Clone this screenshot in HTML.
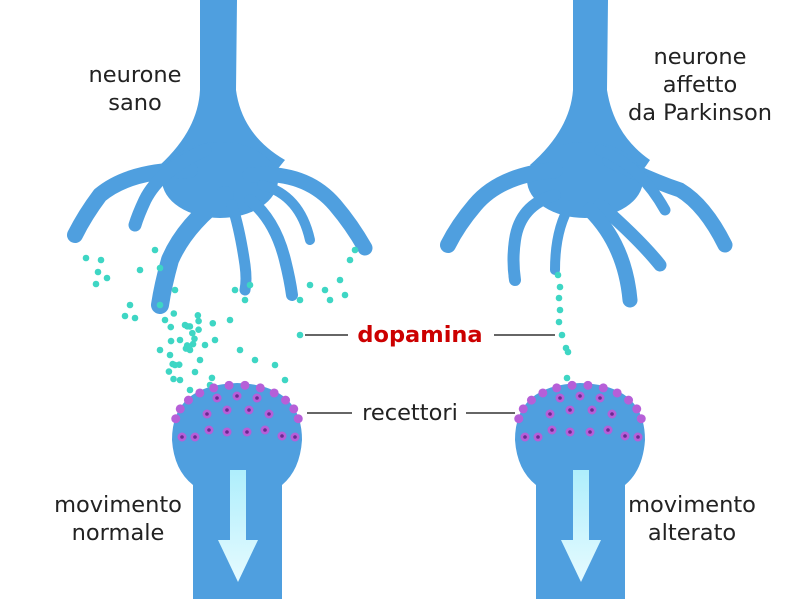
<!DOCTYPE html>
<html><head><meta charset="utf-8"><style>
html,body{margin:0;padding:0;background:#fff}
svg{display:block}
text{font-family:"DejaVu Sans","Liberation Sans",sans-serif;fill:#222;font-size:22.5px}
</style></head><body>
<svg id="s" width="800" height="599" viewBox="0 0 800 599" xmlns="http://www.w3.org/2000/svg">
<defs>
<linearGradient id="ar" x1="0" y1="0" x2="0" y2="1"><stop offset="0" stop-color="#aeeefc"/><stop offset="1" stop-color="#e6fbff"/></linearGradient>
</defs>
<g fill="#4f9fdf" stroke="#4f9fdf" stroke-linecap="round" stroke-linejoin="round">
<path d="M200 0 L237 0 L236 90 Q242 135 285 160 Q250 205 215 215 Q180 200 160 165 Q198 130 200 90 Z" stroke="none"/>
<ellipse cx="220" cy="180" rx="58" ry="38" stroke="none"/>
<path d="M190 170 Q130 170 100 195 Q85 215 75 235" fill="none" stroke-width="16"/>
<path d="M205 150 Q160 170 145 200 Q138 215 135 225" fill="none" stroke-width="13"/>
<path d="M225 195 Q185 225 170 260 Q163 285 160 305" fill="none" stroke-width="18"/>
<path d="M250 175 Q305 170 335 205 Q352 225 365 248" fill="none" stroke-width="15"/>
<path d="M250 200 Q275 220 285 260 Q290 280 292 295" fill="none" stroke-width="12"/>
<path d="M232 205 Q240 230 245 265 Q247 280 245 290" fill="none" stroke-width="11"/>
<path d="M262 185 Q300 195 310 240" fill="none" stroke-width="10"/>
<path d="M573 0 L608 0 L607 90 Q614 135 650 160 Q620 205 585 215 Q550 200 530 165 Q570 130 573 90 Z" stroke="none"/>
<ellipse cx="585" cy="180" rx="58" ry="38" stroke="none"/>
<path d="M555 170 Q500 175 475 205 Q458 225 448 245" fill="none" stroke-width="16"/>
<path d="M555 195 Q520 205 515 240 Q512 260 515 280" fill="none" stroke-width="12"/>
<path d="M570 205 Q555 230 555 270" fill="none" stroke-width="10"/>
<path d="M600 205 Q640 240 660 265" fill="none" stroke-width="13"/>
<path d="M590 210 Q625 245 630 300" fill="none" stroke-width="15"/>
<path d="M610 160 Q650 180 680 190 Q705 205 725 245" fill="none" stroke-width="15"/>
<path d="M600 150 Q640 165 665 210" fill="none" stroke-width="11"/>
<path d="M172 440 Q172 385 237 383 Q302 385 302 440 Q300 470 282 485 L282 599 L193 599 L193 485 Q174 470 172 440 Z" stroke="none"/>
<path d="M515 440 Q515 385 580 383 Q645 385 645 440 Q643 470 625 485 L625 599 L536 599 L536 485 Q517 470 515 440 Z" stroke="none"/>
</g>
<path d="M230 470 L246 470 L246 540 L258 540 L238 582 L218 540 L230 540 Z" fill="url(#ar)"/>
<path d="M573 470 L589 470 L589 540 L601 540 L581 582 L561 540 L573 540 Z" fill="url(#ar)"/>
<g id="dots" fill="#3ed6c4"></g>
<g id="rec"></g>
<text x="135" y="82" text-anchor="middle">neurone</text>
<text x="135" y="110" text-anchor="middle">sano</text>
<text x="700" y="64" text-anchor="middle">neurone</text>
<text x="700" y="92" text-anchor="middle">affetto</text>
<text x="700" y="120" text-anchor="middle">da Parkinson</text>
<text x="420" y="342" text-anchor="middle" style="fill:#cc0000;font-weight:bold;font-size:22.5px">dopamina</text>
<text x="410" y="420" text-anchor="middle">recettori</text>
<text x="118" y="512" text-anchor="middle">movimento</text>
<text x="118" y="540" text-anchor="middle">normale</text>
<text x="692" y="512" text-anchor="middle">movimento</text>
<text x="692" y="540" text-anchor="middle">alterato</text>
<g stroke="#333" stroke-width="1.5">
<line x1="305" y1="335" x2="348" y2="335"/><line x1="494" y1="335" x2="555" y2="335"/>
<line x1="307" y1="413" x2="352" y2="413"/><line x1="466" y1="413" x2="515" y2="413"/>
</g>
</svg>
<script>
var ns="http://www.w3.org/2000/svg",d=document.getElementById("dots"),r=document.getElementById("rec");
function c(x,y,rad,f,p){var e=document.createElementNS(ns,"circle");e.setAttribute("cx",x);e.setAttribute("cy",y);e.setAttribute("r",rad);if(f)e.setAttribute("fill",f);(p||d).appendChild(e);return e;}
var seed=7;function rnd(){seed=(seed*9301+49297)%233280;return seed/233280;}
var pts=[[86,258],[101,260],[98,272],[107,278],[96,284],[130,305],[125,316],[135,318],[160,305],[175,290],[165,320],[185,325],[180,340],[190,350],[170,355],[200,360],[205,345],[195,372],[180,380],[210,385],[235,290],[250,285],[245,300],[300,300],[310,285],[325,290],[340,280],[345,295],[350,260],[355,250],[330,300],[240,350],[255,360],[275,365],[285,380],[300,335],[230,320],[155,250],[140,270],[160,268],[215,340],[160,350],[175,365],[190,390]];
pts.forEach(function(p){c(p[0],p[1],3.3);});
for(var i=0;i<20;i++)c(165+rnd()*50,310+rnd()*70,3.3);
[[558,275],[560,287],[559,298],[560,310],[559,322],[562,335],[566,348],[568,352],[567,378]].forEach(function(p){c(p[0],p[1],3.3);});
function recs(cx){
 var g=r;
 for(var a=0;a<=11;a++){var t=Math.PI*(1.05+a*0.9/11);var x=cx+62*Math.cos(t),y=425+40*Math.sin(t);c(x,y,4.5,"#b65fd8",g);}
 [[-55,437],[-42,437],[-28,430],[-10,432],[10,432],[28,430],[45,436],[58,437],[-30,414],[-10,410],[12,410],[32,414],[-20,398],[0,396],[20,398]].forEach(function(p){c(cx+p[0],p[1],4.5,"#b65fd8",g);c(cx+p[0],p[1],1.8,"#6a2a90",g);});
}
recs(237);recs(580);
</script>
</body></html>
